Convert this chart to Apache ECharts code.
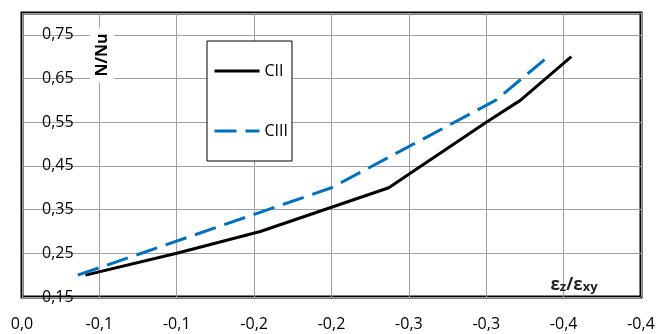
<!DOCTYPE html>
<html>
<head>
<meta charset="utf-8">
<script src="https://cdn.jsdelivr.net/npm/echarts@6/dist/echarts.min.js"></script>
<style>
  html, body { margin: 0; padding: 0; background: #fff; }
  #chart { width: 659px; height: 334px; }
</style>
</head>
<body>
<div id="chart"></div>
<script>
// strain ratio (x) vs relative load (y)
const ciiX = [-0.041, -0.1, -0.154, -0.237, -0.3, -0.322, -0.355]
const ciiY = [0.2, 0.25, 0.3, 0.4, 0.55, 0.6, 0.7]
const ciiiX = [-0.036, -0.2, -0.306, -0.34]
const ciiiY = [0.2, 0.4, 0.6, 0.7]

const xTickLabels = ['0,0', '-0,1', '-0,1', '-0,2', '-0,2', '-0,3', '-0,3', '-0,4', '-0,4']
const yTickLabels = ['0,15', '0,25', '0,35', '0,45', '0,55', '0,65', '0,75']

const font = '"Open Sans", "Noto Sans", sans-serif'

const chart = echarts.init(document.getElementById('chart'), null, { renderer: 'canvas' })

const option = {
  animation: false,
  backgroundColor: '#fff',
  textStyle: { fontFamily: font },
  grid: {
    left: 22, top: 13, right: 18, bottom: 37,
    show: true, borderColor: '#000', borderWidth: 3, backgroundColor: 'transparent',
  },
  legend: {
    orient: 'vertical',
    left: 207,
    top: 41,
    itemWidth: 45,
    itemHeight: 14,
    itemGap: 44,
    padding: [22, 4, 22, 6],
    borderColor: '#000',
    borderWidth: 1,
    backgroundColor: '#fff',
    itemStyle: { opacity: 0 },
    lineStyle: { width: 3 },
    textStyle: { fontSize: 16, color: '#000', fontFamily: font },
    data: ['CII', 'CIII'],
  },
  xAxis: {
    type: 'value',
    inverse: true,
    min: -0.4,
    max: 0,
    interval: 0.05,
    axisLine: { show: false },
    axisTick: { show: false },
    splitLine: { show: true, lineStyle: { color: '#a0a0a0', width: 1 } },
    axisLabel: {
      margin: 19,
      fontSize: 16,
      color: '#000',
      showMinLabel: true,
      showMaxLabel: true,
      formatter: (v) => xTickLabels[Math.round(-v / 0.05)] ?? '',
    },
  },
  yAxis: {
    type: 'value',
    min: 0.15,
    max: 0.8,
    interval: 0.1,
    axisLine: { show: false },
    axisTick: { show: false },
    splitLine: { show: true, lineStyle: { color: '#a0a0a0', width: 1 } },
    axisLabel: {
      inside: true,
      margin: 20,
      fontSize: 16,
      color: '#000',
      showMaxLabel: false,
      formatter: (v) => yTickLabels[Math.round((v - 0.15) / 0.1)] ?? '',
    },
  },
  series: [
    {
      name: 'CII',
      type: 'line',
      data: ciiX.map((x, i) => [x, ciiY[i]]),
      symbol: 'none',
      lineStyle: { color: '#000', width: 3 },
      itemStyle: { color: '#000' },
      z: 3,
    },
    {
      name: 'CIII',
      type: 'line',
      data: ciiiX.map((x, i) => [x, ciiiY[i]]),
      symbol: 'none',
      lineStyle: { color: '#0070C0', width: 3, type: [22, 9] },
      itemStyle: { color: '#0070C0' },
      z: 4,
    },
  ],
  graphic: [
    {
      type: 'text',
      x: 102,
      y: 55,
      rotation: Math.PI / 2,
      style: {
        text: 'N/Nu',
        font: 'bold 16px ' + font,
        fill: '#000',
        align: 'center',
        verticalAlign: 'middle',
        backgroundColor: '#fff',
        padding: [4, 6],
      },
      z: 10,
    },
    {
      type: 'text',
      x: 574,
      y: 285,
      style: {
        text: '{e|ε}{s|z}{e|/}{e|ε}{s|xy}',
        align: 'center',
        verticalAlign: 'middle',
        fill: '#222',
        rich: {
          e: { font: 'bold 17px ' + font, fill: '#222', verticalAlign: 'bottom' },
          s: { font: 'bold 13px ' + font, fill: '#222', verticalAlign: 'bottom' },
        },
      },
      z: 10,
    },
  ],
}

chart.setOption(option)
window.addEventListener('resize', () => chart.resize())
</script>
</body>
</html>
